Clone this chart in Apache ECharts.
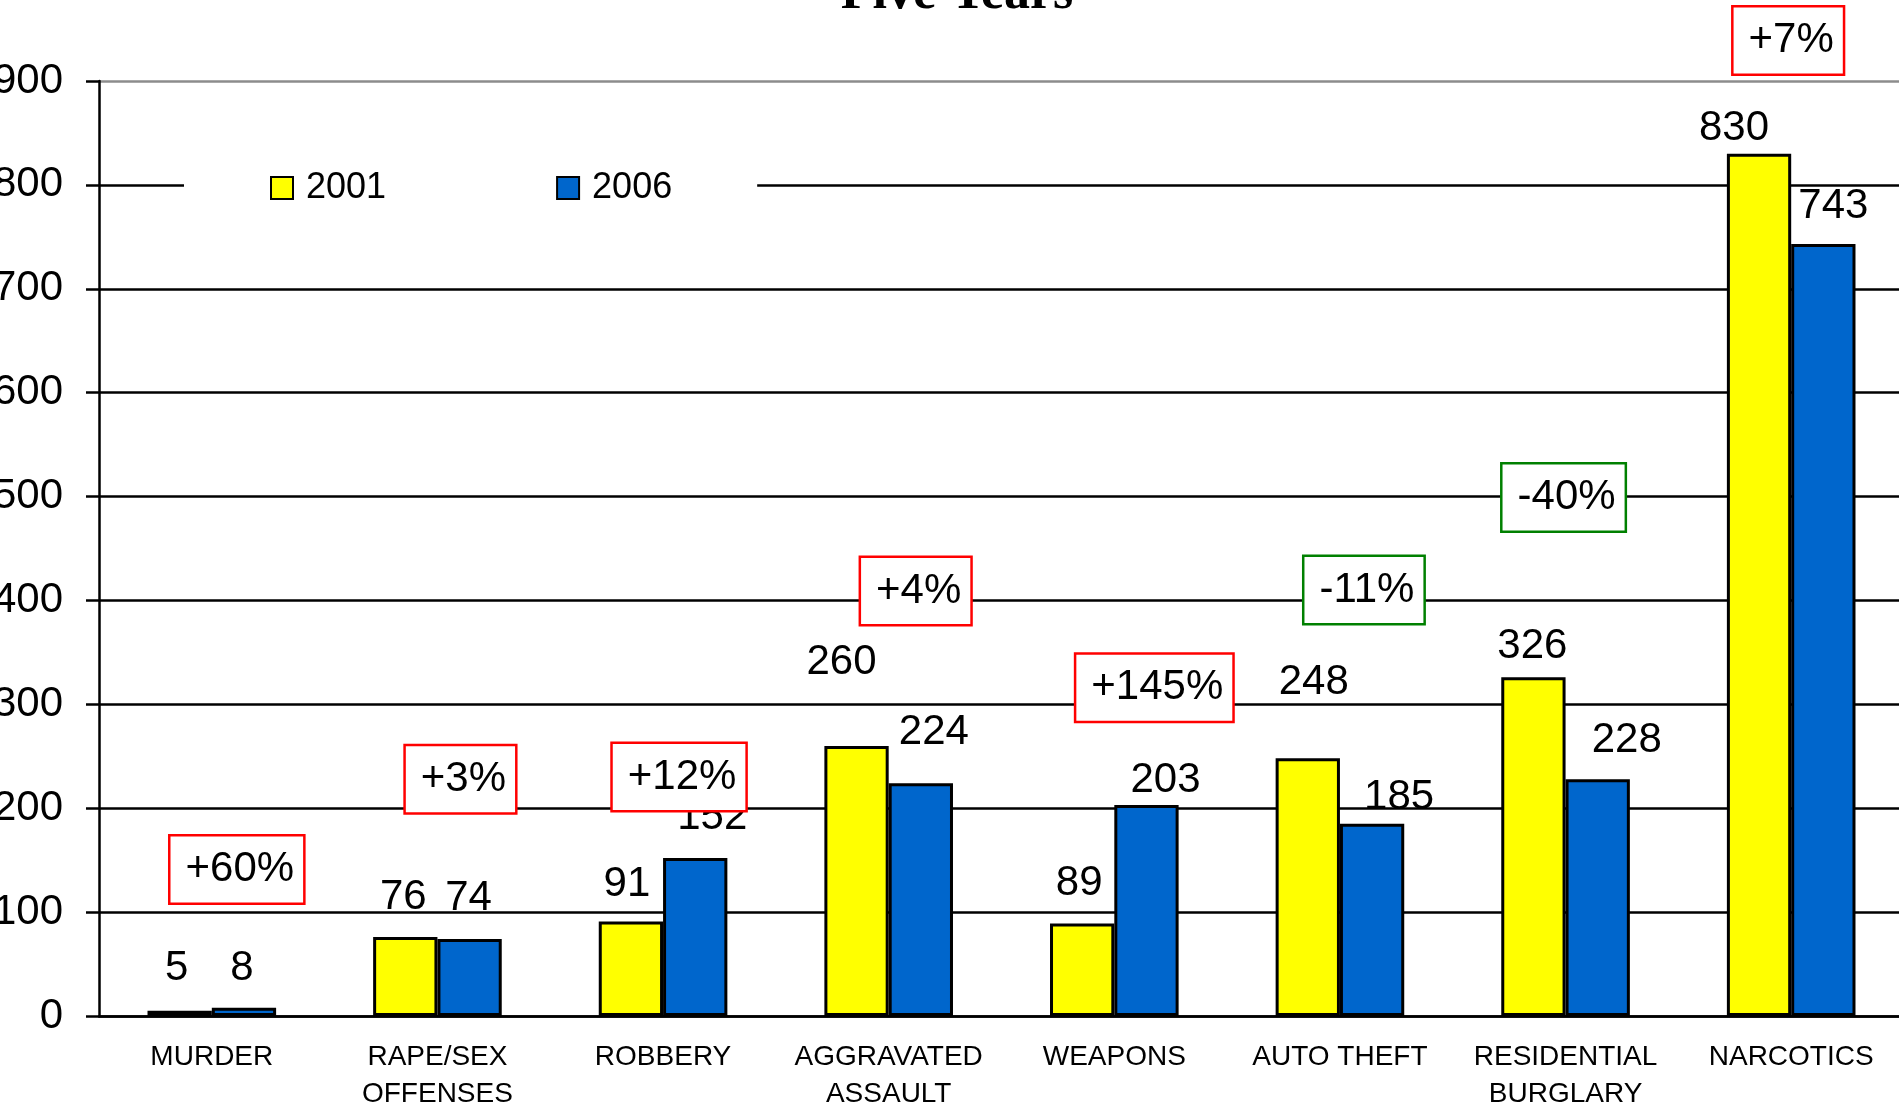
<!DOCTYPE html>
<html>
<head>
<meta charset="utf-8">
<script src="https://cdn.jsdelivr.net/npm/echarts@6/dist/echarts.min.js"></script>
<style>
	html, body { margin: 0; padding: 0; background: #fff; }
	#main { width: 1899px; height: 1104px; }
</style>
</head>
<body>
<div id="main"></div>
<script>
// data
const categories = ['MURDER', 'RAPE/SEX\nOFFENSES', 'ROBBERY', 'AGGRAVATED\nASSAULT', 'WEAPONS', 'AUTO THEFT', 'RESIDENTIAL\nBURGLARY', 'NARCOTICS'];
const yearNames = ['2001', '2006'];
const arrests2001 = [5, 76, 91, 260, 89, 248, 326, 830];
const arrests2006 = [8, 74, 152, 224, 203, 185, 228, 743];
const changes = ['+60%', '+3%', '+12%', '+4%', '+145%', '-11%', '-40%', '+7%'];
const yMin = 0;
const yMax = 900;
const yStep = 100;

const FONT = '"Liberation Sans", Arial, sans-serif';

// label nudges (px) so the value labels sit where the original put them
const nudge2001 = [[-3, -16], [-2, -14], [-4, -11], [-15, -57], [-3, -14], [6, -50], [-1, -5], [-25, 1]];
const nudge2006 = [[-2, -13], [-1, -15], [17, -15], [13, -25], [19, 1], [27, 0], [29, -13], [10, -12]];
// change boxes: height on the value scale and shift from category centre
const boxLevel = [141, 228, 230, 409, 316, 410, 499, 939];
const boxShift = [25, 23, 16, 27, 40, 24, -2, -3];

let myChart = echarts.init(document.getElementById('main'));

function withNudge(values, nudges) {
	return values.map(function (v, i) {
		return { value: v, label: { offset: nudges[i] } };
	});
}

let gridColors = [];
for (let v = yMin; v <= yMax; v += yStep) {
	gridColors.push(v === yMax ? '#8c8c8c' : '#000');
}

let barLabel = {
	show: true,
	position: 'top',
	distance: 5,
	color: '#000',
	fontSize: 42,
	fontFamily: FONT
};

let option = {
	animation: false,
	backgroundColor: '#fff',
	grid: {
		left: 99,
		right: -5,
		top: 81,
		bottom: 88,
		containLabel: false,
		outerBoundsMode: 'none'
	},
	legend: {
		data: yearNames,
		left: 184,
		top: 162,
		icon: 'rect',
		itemWidth: 22,
		itemHeight: 22,
		itemGap: 170,
		padding: [8, 85, 8, 86],
		backgroundColor: '#fff',
		textStyle: {
			color: '#000',
			fontSize: 36,
			fontFamily: FONT,
			padding: [4, 0, 0, 8]
		}
	},
	xAxis: {
		type: 'category',
		data: categories,
		axisLine: { lineStyle: { color: '#000', width: 2.5 } },
		axisTick: { show: false },
		axisLabel: {
			interval: 0,
			color: '#000',
			fontSize: 28,
			fontFamily: FONT,
			lineHeight: 37,
			margin: 23
		}
	},
	yAxis: {
		type: 'value',
		min: yMin,
		max: yMax,
		interval: yStep,
		axisLine: { show: true, lineStyle: { color: '#000', width: 2.5 } },
		axisTick: { show: true, length: 13, lineStyle: { color: '#000', width: 2.5 } },
		axisLabel: {
			color: '#000',
			fontSize: 42,
			fontFamily: FONT,
			margin: 36
		},
		splitLine: { lineStyle: { color: gridColors, width: 2.5 } }
	},
	series: [{
		name: yearNames[0],
		type: 'bar',
		data: withNudge(arrests2001, nudge2001),
		barGap: '0%',
		barCategoryGap: '43%',
		itemStyle: { color: '#ffff00', borderColor: '#000', borderWidth: 3 },
		label: barLabel
	}, {
		name: yearNames[1],
		type: 'bar',
		data: withNudge(arrests2006, nudge2006),
		barGap: '0%',
		barCategoryGap: '43%',
		itemStyle: { color: '#0066cc', borderColor: '#000', borderWidth: 3 },
		label: barLabel
	}]
};

myChart.setOption(option);

// title (top cut off in the original) and the change boxes
let graphics = [{
	type: 'text',
	x: 957,
	y: -5,
	z: 100,
	style: {
		text: 'Five Years',
		font: 'bold 52px "Liberation Serif", "Times New Roman", serif',
		fill: '#000',
		align: 'center',
		verticalAlign: 'middle'
	}
}];
changes.forEach(function (t, i) {
	let p = myChart.convertToPixel({ gridIndex: 0 }, [i, boxLevel[i]]);
	graphics.push({
		type: 'text',
		x: p[0] + boxShift[i],
		y: p[1],
		z: 100,
		style: {
			text: t,
			font: '42px ' + FONT,
			fill: '#000',
			align: 'center',
			verticalAlign: 'middle',
			backgroundColor: '#fff',
			borderColor: t.charAt(0) === '-' ? '#008000' : '#ff0000',
			borderWidth: 2.5,
			padding: [15, 9, 9, 15]
		}
	});
});
myChart.setOption({ graphic: graphics });
</script>
</body>
</html>
